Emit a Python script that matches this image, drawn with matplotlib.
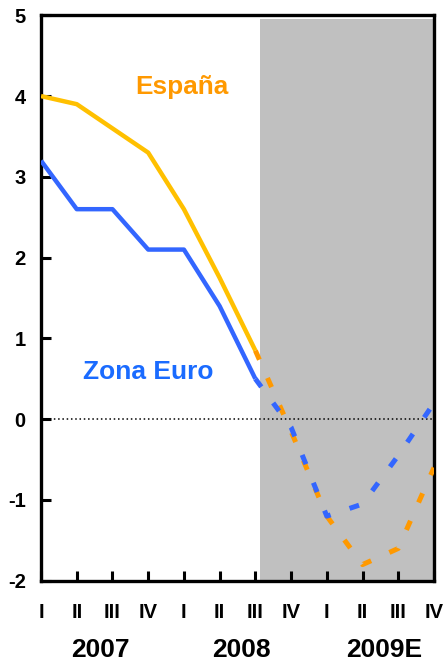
import matplotlib.pyplot as plt

# datos trimestrales (I 2007 .. IV 2009E)
trimestres = ["I", "II", "III", "IV", "I", "II", "III", "IV", "I", "II", "III", "IV"]
anios = ["2007", "2008", "2009E"]
anios_x = [1.65, 5.6, 9.6]

espana_real = [4.0, 3.9, 3.6, 3.3, 2.6, 1.75, 0.85]
euro_real = [3.2, 2.6, 2.6, 2.1, 2.1, 1.4, 0.5]
espana_prev = [0.85, -0.15, -1.2, -1.8, -1.6, -0.6]
euro_prev = [0.5, -0.1, -1.2, -1.05, -0.45, 0.2]

x_real = list(range(len(espana_real)))
x_prev = list(range(6, 6 + len(espana_prev)))

plt.rcParams['font.family'] = ['Liberation Sans', 'DejaVu Sans']
plt.rcParams['font.weight'] = 'bold'
plt.rcParams['axes.unicode_minus'] = False

fig = plt.figure(figsize=(4.46, 6.66), dpi=100)
ax = fig.add_axes([0.092, 0.128, 0.881, 0.849])

# zona sombreada de previsiones
ax.axvspan(6.13, 11, ymin=0, ymax=(4.95 + 2) / 7, color="#C0C0C0", lw=0, zorder=0)

ax.axhline(0, color="black", lw=1.1, ls=(0, (1, 1.8)), zorder=1)

ax.plot(x_real, espana_real, color="#FFC000", lw=3.2, solid_capstyle="butt", zorder=3)
ax.plot(x_real, euro_real, color="#3366FF", lw=3.2, solid_capstyle="butt", zorder=3)
ax.plot(x_prev, espana_prev, color="#FF9900", lw=3.6, dashes=(2, 4), zorder=3)
ax.plot(x_prev, euro_prev, color="#3366FF", lw=3.6, dashes=(2, 4), zorder=4)

ax.text(2.63, 4.11, "España", color="#FF9900", fontsize=18.8, fontweight="bold", va="center", ha="left")
ax.text(1.18, 0.58, "Zona Euro", color="#1A6BFF", fontsize=19, fontweight="bold", va="center", ha="left")

ax.set_xlim(0, 11)
ax.set_ylim(-2, 5)
ax.set_yticks(range(-2, 6))
ax.set_xticks(range(12))
ax.set_xticklabels(trimestres)
ax.tick_params(axis="both", direction="in", length=7, width=2.2, labelsize=14.5)
ax.tick_params(axis="x", pad=16)
ax.tick_params(axis="y", pad=11)
for lab in ax.get_xticklabels() + ax.get_yticklabels():
    lab.set_fontweight("bold")

for s in ax.spines.values():
    s.set_linewidth(2.4)

for a, xa in zip(anios, anios_x):
    ax.text(xa, -2.86, a, fontsize=19, fontweight="bold", ha="center", va="center", clip_on=False)

fig.savefig("out.png", dpi=100)
